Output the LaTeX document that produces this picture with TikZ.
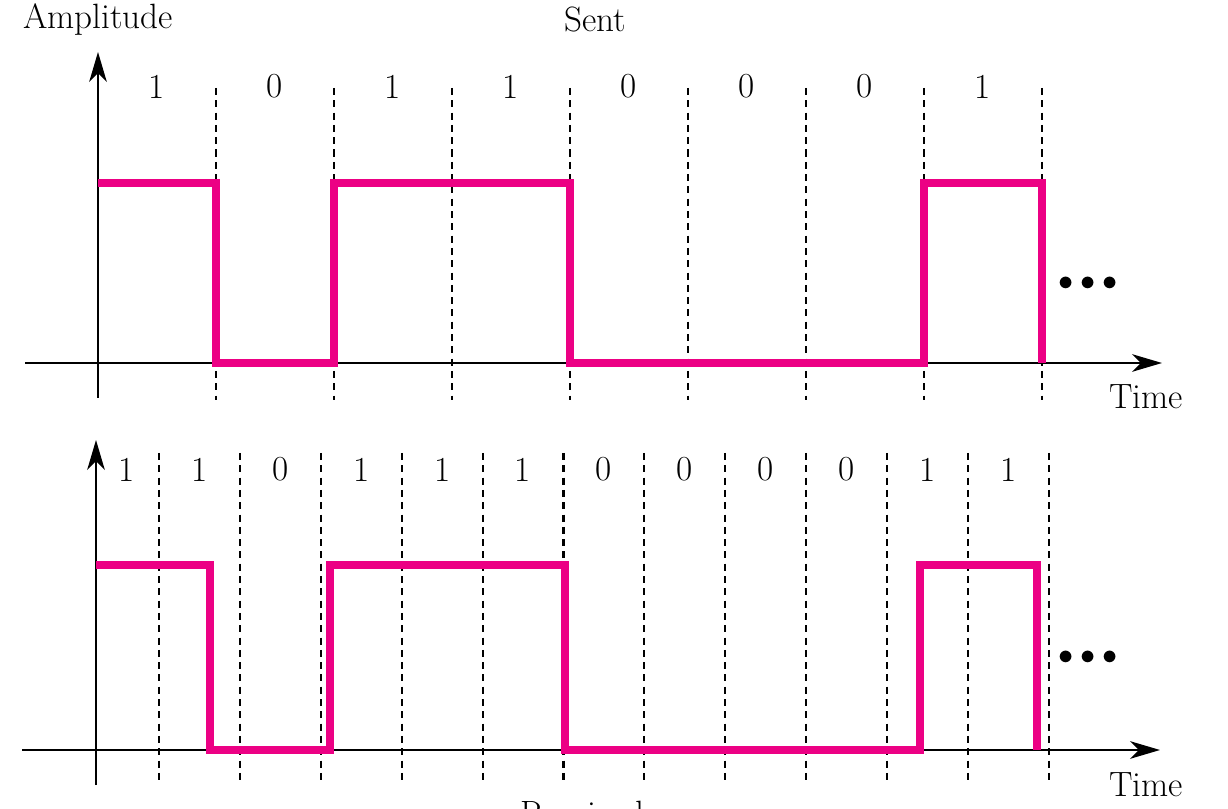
\documentclass[tikz,border=0pt]{standalone}
\usepackage{xcolor}
\usepackage{tikz}
\usetikzlibrary{positioning,arrows.meta}
\definecolor{PulsePink}{RGB}{236,0,132}

\begin{document}
\begin{tikzpicture}[
  lbl/.style={font=\fontsize{20}{24}\selectfont, inner sep=0pt},
  axis/.style={draw=black, line width=1.4pt, -{Stealth[length=17pt,width=10pt,inset=5pt]}},
  slot/.style={draw=black, line width=1.2pt, dash pattern=on 4pt off 3pt},
  pulse/.style={draw=PulsePink, line width=4.6pt, miter limit=10},
  dots/.style={font=\fontsize{16}{20}\selectfont, inner sep=0pt}
]
\useasboundingbox (0,0) rectangle (24.56,16.16);

% sent signal
\coordinate (sx0) at (0.50,8.90);
\coordinate (sx1) at (23.24,8.90);
\coordinate (sy0) at (1.96,8.20);
\coordinate (sy1) at (1.96,15.12);

\foreach \k in {1,...,8}
  \draw[slot] (1.96+2.36*\k,14.40) -- (1.96+2.36*\k,8.16);
\foreach \b [count=\k] in {1,0,1,1,0,0,0,1}
  \node[lbl] (s\k) at (1.96+2.36*\k-1.18,14.43) {\b};

\draw[axis] (sx0) -- (sx1);
\draw[axis] (sy0) -- (sy1);
\draw[pulse] (1.96,12.50) -| (4.32,8.90) -| (6.68,12.50) -| (11.40,8.90) -| (18.48,12.50) -| (20.84,8.90);

\node[lbl] (amp) at (1.96,15.76) {Amplitude};
\node[lbl] (sent) at (11.90,15.77) {Sent};
\node[lbl] (timeS) at (22.92,8.23) {Time};
\node[dots] (moreS) at (21.76,10.48) {$\bullet\bullet\bullet$};

% received signal
\coordinate (rx0) at (0.44,1.16);
\coordinate (rx1) at (23.20,1.16);
\coordinate (ry0) at (1.92,0.46);
\coordinate (ry1) at (1.92,7.36);

\foreach \k in {0,...,11}
  \draw[slot] (3.18+1.618*\k,7.10) -- (3.18+1.618*\k,0.56);
\node[lbl] (r0) at (2.54,6.77) {1};
\foreach \b [count=\k] in {1,0,1,1,1,0,0,0,0,1,1}
  \node[lbl] (r\k) at (3.18+1.618*\k-0.809,6.77) {\b};

\draw[axis] (rx0) -- (rx1);
\draw[axis] (ry0) -- (ry1);
\draw[pulse] (1.92,4.86) -| (4.20,1.16) -| (6.60,4.86) -| (11.30,1.16) -| (18.40,4.86) -| (20.74,1.16);

\node[lbl] (timeR) at (22.92,0.47) {Time};
\node[dots] (moreR) at (21.76,3.00) {$\bullet\bullet\bullet$};
\node[lbl, anchor=north west] (rcvd) at (10.40,0.14) {Received};
\end{tikzpicture}
\end{document}
